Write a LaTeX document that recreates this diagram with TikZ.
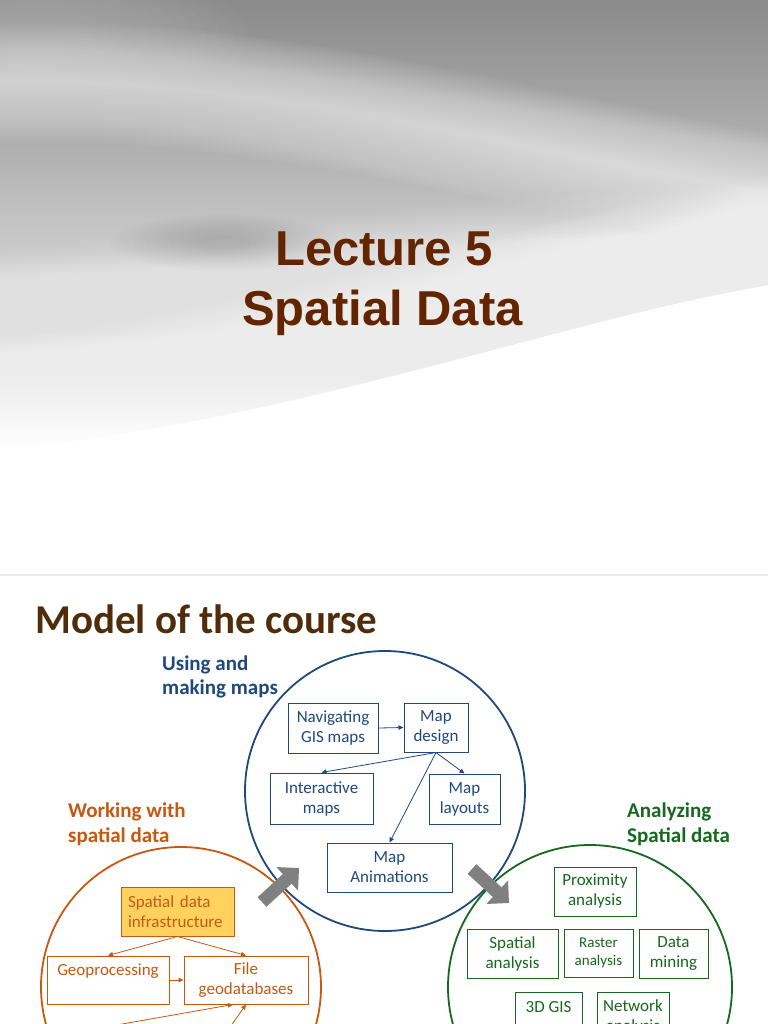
\documentclass[tikz,border=0pt]{standalone}
\usepackage{fontspec}
\setmainfont{Carlito}
\newfontfamily\arialf{Liberation Sans}
\usetikzlibrary{arrows.meta,calc}
\definecolor{titlebrown}{RGB}{99,37,0}
\definecolor{modelbrown}{RGB}{80,45,10}
\definecolor{mblue}{RGB}{31,73,125}
\definecolor{morange}{RGB}{198,89,17}
\definecolor{mgreen}{RGB}{22,104,30}
\definecolor{myellow}{RGB}{255,210,95}
\definecolor{arrowgray}{RGB}{128,128,128}
\tikzset{
  box/.style={draw, line width=1pt, rectangle, inner sep=0pt, align=center, font=\fontsize{17}{20}\selectfont},
  bluebox/.style={box, draw=mblue, text=mblue},
  orangebox/.style={box, draw=morange, text=morange},
  greenbox/.style={box, draw=mgreen, text=mgreen},
  thinarrow/.style={line width=0.8pt, -{Triangle[length=5pt,width=4.5pt]}},
  ring/.style={circle, inner sep=0pt, line width=1.8pt},
  catlabel/.style={anchor=base west, inner sep=0pt, font=\bfseries\fontsize{21}{24}\selectfont},
  blockarrow/.style={draw=arrowgray, line width=13pt, -{Triangle[width=31pt,length=16pt]}},
}
\begin{document}
\begin{tikzpicture}[x=1pt,y=-1pt]
\useasboundingbox (0,0) rectangle (768,1024);
\clip (0,0) rectangle (768,1024);
\fill[white] (0,0) rectangle (768,1024);
% ---------- slide 1 background ----------
\begin{scope}
\clip (0,0) rectangle (768,574);
\shade[top color=black!46, bottom color=white] (0,0) -- (768,0) -- (768,285) .. controls (560,320) and (300,420) .. (0,450) -- cycle;
% lighter top-left
\foreach \s in {1,2,...,12} \fill[white, opacity=0.02] (40,35) ellipse ({40+\s*14} and {15+\s*5});
% light swoosh
\foreach \w in {4,8,...,120} \draw[white, opacity=0.032, line width=\w pt, line cap=round] (-60,85) .. controls (250,65) and (500,150) .. (840,205);
% lighter lower area
\foreach \w in {4,8,...,140} \draw[white, opacity=0.03, line width=\w pt, line cap=round] (-60,330) .. controls (200,310) and (450,260) .. (840,250);
% darker blob
\foreach \s in {1,2,...,16} \fill[black, opacity=0.007] (225,243) ellipse ({20+\s*6} and {5+\s*1.5});
% soft lower edge
\foreach \w in {5,10,...,220} \draw[white, opacity=0.05, line width=\w pt] (840,275) .. controls (560,320) and (300,420) .. (-40,455);
\end{scope}
\node[anchor=base, inner sep=0pt, text=titlebrown, font=\arialf\bfseries\fontsize{49}{58}\selectfont] (lec) at (384,265) {Lecture 5};
\node[anchor=base, inner sep=0pt, text=titlebrown, font=\arialf\bfseries\fontsize{49}{58}\selectfont] (sd) at (382.5,325) {Spatial Data};
\fill[black!8] (0,573.5) rectangle (768,576);
% ---------- slide 2 ----------
\node[anchor=base west, inner sep=0pt, text=modelbrown, font=\bfseries\fontsize{41}{48}\selectfont] (model) at (35,633) {Model of the course};
% rings
\node[ring, draw=mblue, minimum size=280pt] (bluering) at (385,791) {};
\node[ring, draw=morange, minimum size=280pt] (orangering) at (181,987) {};
\node[ring, draw=mgreen, minimum size=284pt] (greenring) at (590,987) {};
% labels
\node[catlabel, text=mblue] (ulab1) at (162,670) {Using and};
\node[catlabel, text=mblue] (ulab2) at (162,694) {making maps};
\node[catlabel, text=morange] (wlab1) at (68,817) {Working with};
\node[catlabel, text=morange] (wlab2) at (68,842) {spatial data};
\node[catlabel, text=mgreen] (alab1) at (627,817) {Analyzing};
\node[catlabel, text=mgreen] (alab2) at (627,842) {Spatial data};
% blue boxes
\node[bluebox, minimum width=90pt, minimum height=50pt] (nav) at (333,728) {Navigating\\GIS maps};
\node[bluebox, minimum width=64pt, minimum height=49pt] (md) at (436,727.5) {Map\\design};
\node[bluebox, minimum width=103pt, minimum height=51pt] (im) at (321.5,798.5) {Interactive\\maps};
\node[bluebox, minimum width=71pt, minimum height=50pt] (ml) at (464.5,799) {Map\\layouts};
\node[bluebox, minimum width=125pt, minimum height=49pt] (ma) at (389.5,867.5) {Map\\Animations};
\draw[thinarrow, mblue] (nav.east) -- (md.west);
\draw[thinarrow, mblue] (md.south) -- (im.north);
\draw[thinarrow, mblue] (md.south) -- (ml.north);
\draw[thinarrow, mblue] (md.south) -- (ma.north);
% orange boxes
\node[orangebox, fill=myellow, minimum height=49pt, text width=99pt, inner xsep=7pt, align=left] (sdi) at (177.5,911.5) {Spatial data\\infrastructure};
\node[orangebox, minimum width=122pt, minimum height=48pt] (geo) at (108,980) {Geoprocessing\\\mbox{}};
\node[orangebox, minimum width=124pt, minimum height=48pt] (fg) at (246,980) {File\\geodatabases};
\draw[thinarrow, morange] (sdi.south) -- (geo.north);
\draw[thinarrow, morange] (sdi.south) -- (fg.north);
\draw[thinarrow, morange] (geo.east) -- (fg.west);
\coordinate (oin1) at (88,1030);
\coordinate (oin2) at (228,1030);
\draw[thinarrow, morange] (oin1) -- ([xshift=-13pt]fg.south);
\draw[thinarrow, morange] (oin2) -- (fg.south);
% green boxes
\node[greenbox, minimum width=82pt, minimum height=49pt] (prox) at (595,891.5) {Proximity\\analysis};
\node[greenbox, minimum width=91pt, minimum height=49pt] (spa) at (512.5,953.5) {Spatial\\analysis};
\node[greenbox, minimum width=69pt, minimum height=48pt, font=\fontsize{15}{18}\selectfont] (ras) at (598.5,953) {Raster\\analysis};
\node[greenbox, minimum width=69pt, minimum height=49pt] (dm) at (673.5,953.5) {Data\\mining};
\node[greenbox, minimum width=67pt, minimum height=49pt] (g3d) at (548.5,1016.5) {3D GIS\\\mbox{}};
\node[greenbox, minimum width=72pt, minimum height=49pt] (net) at (633,1016.5) {Network\\analysis};
% block arrows between rings
\coordinate (ba1s) at (262,902);
\coordinate (ba1e) at (299,868);
\coordinate (ba2s) at (472,869);
\coordinate (ba2e) at (509,903);
\draw[blockarrow] (ba1s) -- (ba1e);
\draw[blockarrow] (ba2s) -- (ba2e);
\end{tikzpicture}
\end{document}
